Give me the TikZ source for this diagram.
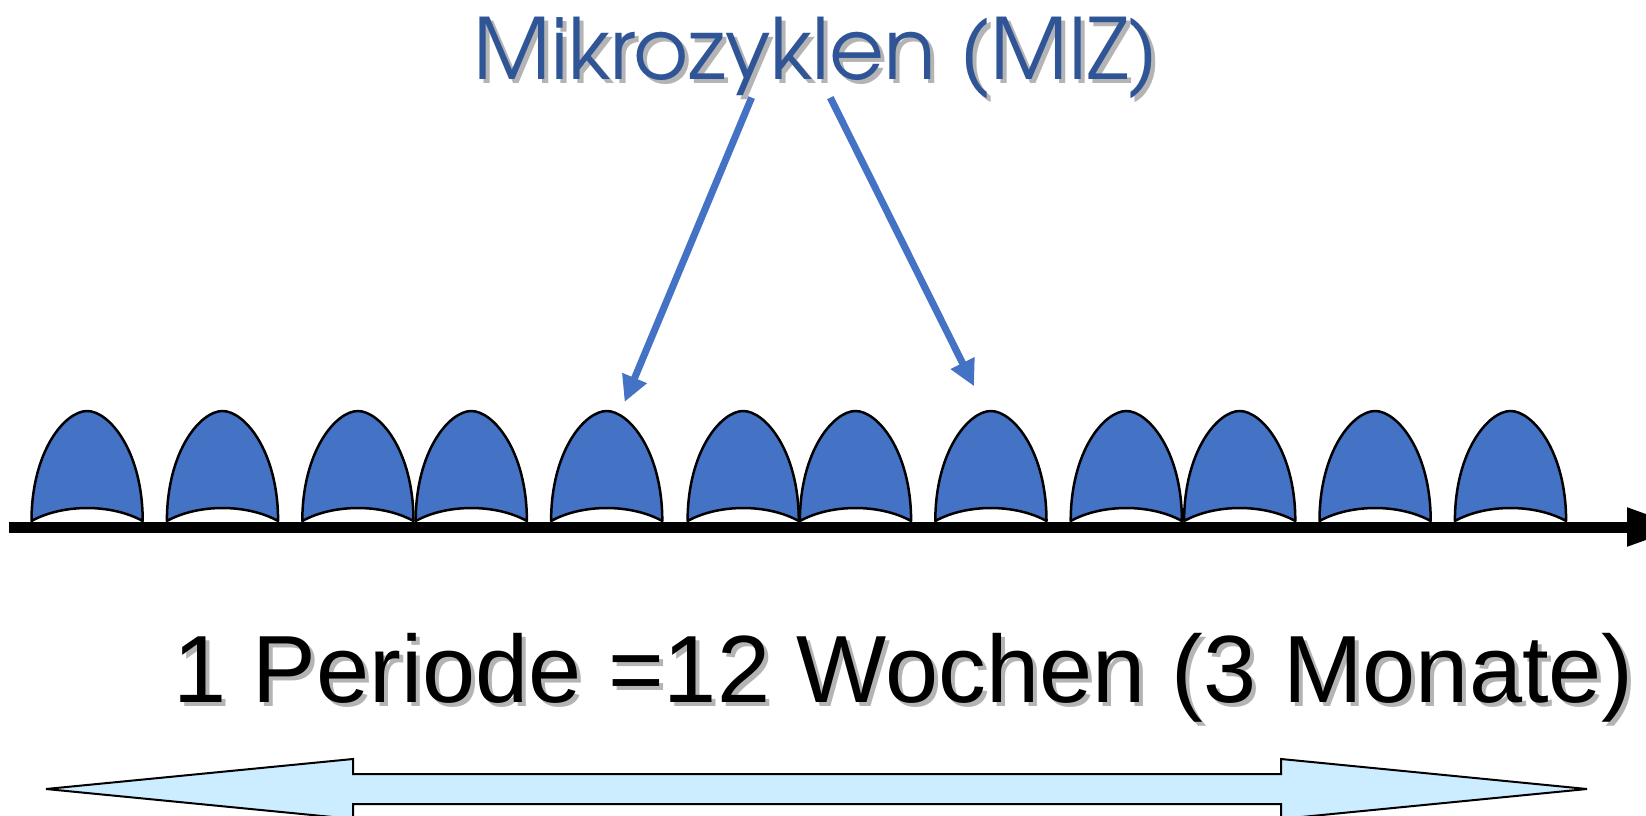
\documentclass[tikz,border=0pt]{standalone}
\usepackage{fontspec}
\usetikzlibrary{arrows.meta}
\newfontfamily\advfont{texgyreadventor-regular.otf}
\newfontfamily\arialfont{Liberation Sans}
\definecolor{humpblue}{HTML}{4472C4}
\definecolor{titleblue}{HTML}{2F5597}
\definecolor{shadowgray}{HTML}{B4B4B4}
\definecolor{lightblue}{HTML}{CCECFF}
\tikzset{
  humpstyle/.style={fill=humpblue,draw=black,line width=2.5pt,line join=round},
  pointer/.style={draw=humpblue,line width=7pt,-{Triangle[length=26pt,width=25pt]}},
  txt/.style={inner sep=0pt,outer sep=0pt},
  titlefont/.style={font=\advfont\fontsize{84.5}{90}\selectfont},
  bottomfont/.style={font=\arialfont\fontsize{95.5}{100}\selectfont},
}
\begin{document}
\begin{tikzpicture}[x=1pt,y=-1pt]
\useasboundingbox (0,0) rectangle (1646,816);
\fill[white] (0,0) rectangle (1646,816);
% title with shadow
\node[txt,titlefont,text=shadowgray,anchor=base] (titleshadow) at (820.5,83) {Mikrozyklen (MIZ)};
\node[txt,titlefont,text=titleblue,anchor=base] (title) at (816.5,79) {Mikrozyklen (MIZ)};
% humps
\foreach \x in {31.5,166.9,302.3,415.7,551.1,687.6,799.9,935.3,1070.7,1184.1,1319.5,1454.9}{
  \draw[humpstyle] (\x,521) .. controls (\x,451) and (\x+33.6,411) .. (\x+55.6,411)
     .. controls (\x+77.6,411) and (\x+111.2,451) .. (\x+111.2,521)
     .. controls (\x+80,503.7) and (\x+31.2,503.7) .. cycle;
}
% axis
\coordinate (axL) at (9,527);
\coordinate (axR) at (1684,527);
\draw[line width=11pt,-{Triangle[length=57pt,width=36pt]}] (axL) -- (axR);
% pointers
\coordinate (p1s) at (751.6,97.6);
\coordinate (p1e) at (624.6,402);
\coordinate (p2s) at (830.3,97.6);
\coordinate (p2e) at (974.1,386.3);
\draw[pointer] (p1s) -- (p1e);
\draw[pointer] (p2s) -- (p2e);
% bottom text with shadow
\node[txt,bottomfont,text=shadowgray,anchor=base west] (periodshadow) at (177,706) {1 Periode =12 Wochen (3 Monate)};
\node[txt,bottomfont,text=black,anchor=base west] (period) at (173,702) {1 Periode =12 Wochen (3 Monate)};
% double arrow
\draw[fill=lightblue,draw=black,line width=2pt,line join=miter]
  (46,789) -- (353,759) -- (353,774) -- (1281,774) -- (1281,759) -- (1587,789)
  -- (1281,819) -- (1281,804) -- (353,804) -- (353,819) -- cycle;
\end{tikzpicture}
\end{document}
